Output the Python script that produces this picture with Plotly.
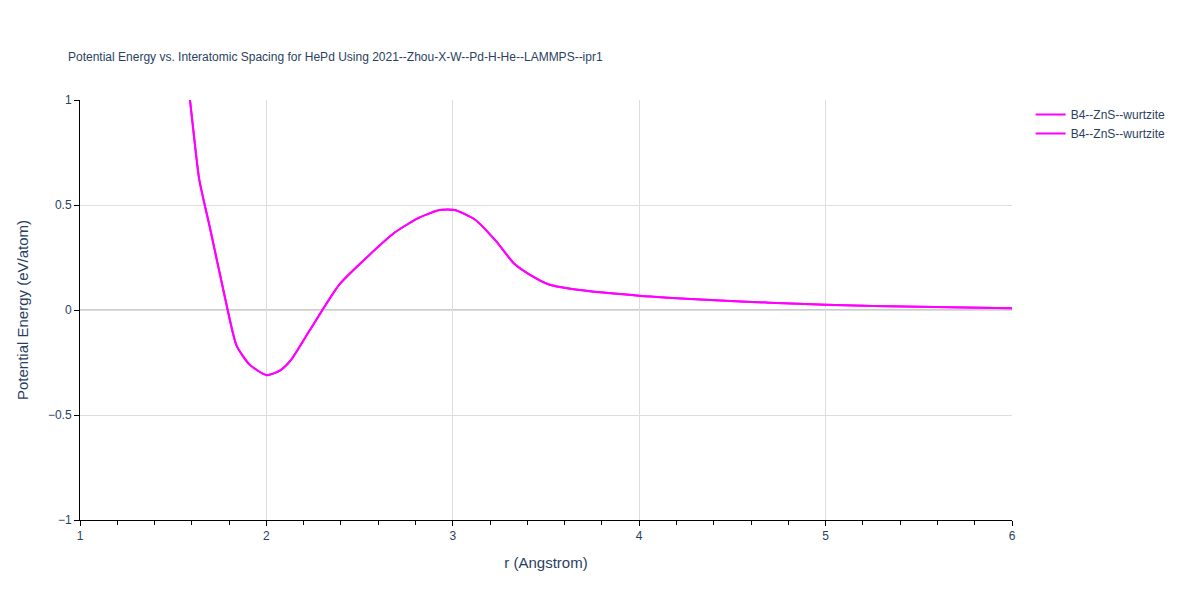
import plotly.graph_objects as go

r = [1.59, 1.62, 1.64, 1.70, 1.78, 1.84, 1.91, 2.00, 2.07, 2.13, 2.23, 2.39, 2.55, 2.69,
     2.82, 2.93, 3.01, 3.12, 3.23, 3.33, 3.41, 3.52, 3.68, 4.0, 4.33, 4.7, 5.0, 5.5, 6.0]
energy = [1.0, 0.76, 0.62, 0.38, 0.05, -0.17, -0.26, -0.31, -0.29, -0.24, -0.10, 0.12, 0.26, 0.37,
          0.44, 0.476, 0.476, 0.43, 0.33, 0.22, 0.17, 0.12, 0.095, 0.068, 0.05, 0.035, 0.025, 0.015, 0.008]
names = ["B4--ZnS--wurtzite", "B4--ZnS--wurtzite"]

fig = go.Figure()
for nm in names:
    fig.add_trace(go.Scatter(x=r, y=energy, mode="lines", name=nm,
                             line=dict(color="#ff00ff", width=2, shape="spline", smoothing=0.6)))

axis_common = dict(showgrid=True, gridcolor="#dddddd", showline=True, linecolor="black",
                   ticks="outside", tickcolor="black", zeroline=False,
                   tickfont=dict(size=12, color="#2a3f5f"))
fig.update_layout(
    width=1200, height=600, plot_bgcolor="white", paper_bgcolor="white",
    font=dict(family="Arial", color="#2a3f5f"),
    title=dict(text="Potential Energy vs. Interatomic Spacing for HePd Using 2021--Zhou-X-W--Pd-H-He--LAMMPS--ipr1",
               font=dict(size=12), x=0.05, y=0.925),
    margin=dict(l=72, r=196, t=92, b=88),
    xaxis=dict(title=dict(text="r (Angstrom)", font=dict(size=15)), range=[1, 6],
               dtick=1, minor=dict(ticks="outside", dtick=0.2, tickcolor="black", ticklen=4),
               **axis_common),
    yaxis=dict(title=dict(text="Potential Energy (eV/atom)", font=dict(size=15)), range=[-1, 1],
               dtick=0.5, **axis_common),
    legend=dict(x=1.02, y=1, font=dict(size=12)),
)
fig.add_hline(y=0, line=dict(color="#bbbbbb", width=1.5), layer="below")
fig.write_html("out.html")
